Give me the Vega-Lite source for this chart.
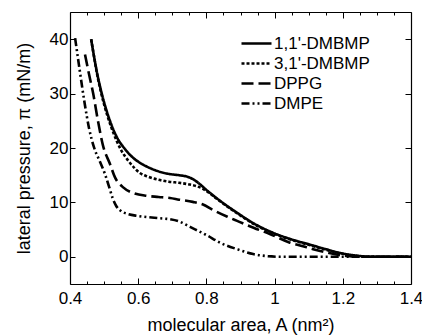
{
  "$schema": "https://vega.github.io/schema/vega-lite/v6.json",
  "width": 341,
  "height": 272,
  "autosize": {"type": "none"},
  "padding": {"left": 70, "top": 12, "right": 11, "bottom": 52},
  "background": "white",
  "config": {
    "view": {"stroke": null},
    "font": "Liberation Sans",
    "axis": {
      "domainColor": "black", "domainWidth": 1.2, "tickColor": "black", "tickWidth": 1,
      "labelColor": "black", "titleColor": "black", "labelFont": "Liberation Sans",
      "titleFont": "Liberation Sans", "labelFontSize": 17, "titleFontSize": 18,
      "titleFontWeight": "normal", "grid": false, "labelOverlap": false, "labelFlush": false
    },
    "legend": {"labelFont": "Liberation Sans"}
  },
  "datasets": {
    "curves": [
      {"s": "1,1'-DMBMP", "a": 0.462, "p": 40},
      {"s": "1,1'-DMBMP", "a": 0.47, "p": 37},
      {"s": "1,1'-DMBMP", "a": 0.48, "p": 33.6},
      {"s": "1,1'-DMBMP", "a": 0.49, "p": 30.8},
      {"s": "1,1'-DMBMP", "a": 0.50, "p": 28.4},
      {"s": "1,1'-DMBMP", "a": 0.52, "p": 24.5},
      {"s": "1,1'-DMBMP", "a": 0.54, "p": 21.7},
      {"s": "1,1'-DMBMP", "a": 0.56, "p": 19.9},
      {"s": "1,1'-DMBMP", "a": 0.585, "p": 18.2},
      {"s": "1,1'-DMBMP", "a": 0.61, "p": 17.1},
      {"s": "1,1'-DMBMP", "a": 0.635, "p": 16.3},
      {"s": "1,1'-DMBMP", "a": 0.665, "p": 15.6},
      {"s": "1,1'-DMBMP", "a": 0.693, "p": 15.2},
      {"s": "1,1'-DMBMP", "a": 0.72, "p": 15.0},
      {"s": "1,1'-DMBMP", "a": 0.745, "p": 14.7},
      {"s": "1,1'-DMBMP", "a": 0.765, "p": 14.1},
      {"s": "1,1'-DMBMP", "a": 0.78, "p": 13.4},
      {"s": "1,1'-DMBMP", "a": 0.80, "p": 12.3},
      {"s": "1,1'-DMBMP", "a": 0.84, "p": 10.3},
      {"s": "1,1'-DMBMP", "a": 0.89, "p": 8.1},
      {"s": "1,1'-DMBMP", "a": 0.94, "p": 6.1},
      {"s": "1,1'-DMBMP", "a": 1.0, "p": 4.3},
      {"s": "1,1'-DMBMP", "a": 1.05, "p": 3.2},
      {"s": "1,1'-DMBMP", "a": 1.1, "p": 2.3},
      {"s": "1,1'-DMBMP", "a": 1.15, "p": 1.4},
      {"s": "1,1'-DMBMP", "a": 1.2, "p": 0.6},
      {"s": "1,1'-DMBMP", "a": 1.25, "p": 0.15},
      {"s": "1,1'-DMBMP", "a": 1.28, "p": 0},
      {"s": "1,1'-DMBMP", "a": 1.4, "p": 0},
      {"s": "3,1'-DMBMP", "a": 0.462, "p": 40},
      {"s": "3,1'-DMBMP", "a": 0.47, "p": 37},
      {"s": "3,1'-DMBMP", "a": 0.48, "p": 33.4},
      {"s": "3,1'-DMBMP", "a": 0.49, "p": 30.5},
      {"s": "3,1'-DMBMP", "a": 0.50, "p": 28},
      {"s": "3,1'-DMBMP", "a": 0.52, "p": 24},
      {"s": "3,1'-DMBMP", "a": 0.537, "p": 21.3},
      {"s": "3,1'-DMBMP", "a": 0.55, "p": 19.6},
      {"s": "3,1'-DMBMP", "a": 0.567, "p": 18},
      {"s": "3,1'-DMBMP", "a": 0.585, "p": 16.6},
      {"s": "3,1'-DMBMP", "a": 0.605, "p": 15.4},
      {"s": "3,1'-DMBMP", "a": 0.63, "p": 14.7},
      {"s": "3,1'-DMBMP", "a": 0.664, "p": 14.1},
      {"s": "3,1'-DMBMP", "a": 0.69, "p": 13.8},
      {"s": "3,1'-DMBMP", "a": 0.72, "p": 13.6},
      {"s": "3,1'-DMBMP", "a": 0.75, "p": 13.3},
      {"s": "3,1'-DMBMP", "a": 0.77, "p": 13.0},
      {"s": "3,1'-DMBMP", "a": 0.79, "p": 12.5},
      {"s": "3,1'-DMBMP", "a": 0.80, "p": 12.1},
      {"s": "3,1'-DMBMP", "a": 0.84, "p": 10.2},
      {"s": "3,1'-DMBMP", "a": 0.89, "p": 8.0},
      {"s": "3,1'-DMBMP", "a": 0.94, "p": 6.0},
      {"s": "3,1'-DMBMP", "a": 1.0, "p": 4.2},
      {"s": "3,1'-DMBMP", "a": 1.05, "p": 3.1},
      {"s": "3,1'-DMBMP", "a": 1.1, "p": 2.2},
      {"s": "3,1'-DMBMP", "a": 1.15, "p": 1.3},
      {"s": "3,1'-DMBMP", "a": 1.2, "p": 0.55},
      {"s": "3,1'-DMBMP", "a": 1.25, "p": 0.1},
      {"s": "3,1'-DMBMP", "a": 1.28, "p": 0},
      {"s": "3,1'-DMBMP", "a": 1.4, "p": 0},
      {"s": "DPPG", "a": 0.444, "p": 37.2},
      {"s": "DPPG", "a": 0.456, "p": 33.5},
      {"s": "DPPG", "a": 0.468, "p": 30},
      {"s": "DPPG", "a": 0.482, "p": 25},
      {"s": "DPPG", "a": 0.497, "p": 20.4},
      {"s": "DPPG", "a": 0.517, "p": 17.1},
      {"s": "DPPG", "a": 0.532, "p": 14.6},
      {"s": "DPPG", "a": 0.555, "p": 12.8},
      {"s": "DPPG", "a": 0.582, "p": 11.8},
      {"s": "DPPG", "a": 0.626, "p": 11.2},
      {"s": "DPPG", "a": 0.66, "p": 11.0},
      {"s": "DPPG", "a": 0.693, "p": 10.8},
      {"s": "DPPG", "a": 0.72, "p": 10.5},
      {"s": "DPPG", "a": 0.76, "p": 10.1},
      {"s": "DPPG", "a": 0.79, "p": 9.6},
      {"s": "DPPG", "a": 0.82, "p": 8.6},
      {"s": "DPPG", "a": 0.86, "p": 7.4},
      {"s": "DPPG", "a": 0.89, "p": 6.6},
      {"s": "DPPG", "a": 0.94, "p": 5.3},
      {"s": "DPPG", "a": 0.986, "p": 4.2},
      {"s": "DPPG", "a": 1.045, "p": 2.6},
      {"s": "DPPG", "a": 1.08, "p": 2.0},
      {"s": "DPPG", "a": 1.113, "p": 1.4},
      {"s": "DPPG", "a": 1.16, "p": 0.7},
      {"s": "DPPG", "a": 1.21, "p": 0.15},
      {"s": "DPPG", "a": 1.24, "p": 0},
      {"s": "DPPG", "a": 1.4, "p": 0},
      {"s": "DMPE", "a": 0.415, "p": 40.2},
      {"s": "DMPE", "a": 0.428, "p": 34.5},
      {"s": "DMPE", "a": 0.442, "p": 28.6},
      {"s": "DMPE", "a": 0.456, "p": 23.6},
      {"s": "DMPE", "a": 0.47, "p": 20.2},
      {"s": "DMPE", "a": 0.487, "p": 17.6},
      {"s": "DMPE", "a": 0.502, "p": 15.3},
      {"s": "DMPE", "a": 0.514, "p": 13.0},
      {"s": "DMPE", "a": 0.525, "p": 10.8},
      {"s": "DMPE", "a": 0.536, "p": 9.3},
      {"s": "DMPE", "a": 0.55, "p": 8.4},
      {"s": "DMPE", "a": 0.567, "p": 7.9},
      {"s": "DMPE", "a": 0.6, "p": 7.5},
      {"s": "DMPE", "a": 0.626, "p": 7.3},
      {"s": "DMPE", "a": 0.66, "p": 7.1},
      {"s": "DMPE", "a": 0.693, "p": 6.9},
      {"s": "DMPE", "a": 0.72, "p": 6.5},
      {"s": "DMPE", "a": 0.752, "p": 5.5},
      {"s": "DMPE", "a": 0.8, "p": 4.0},
      {"s": "DMPE", "a": 0.84, "p": 2.6},
      {"s": "DMPE", "a": 0.89, "p": 1.4},
      {"s": "DMPE", "a": 0.937, "p": 0.5},
      {"s": "DMPE", "a": 0.98, "p": 0.12},
      {"s": "DMPE", "a": 1.02, "p": 0},
      {"s": "DMPE", "a": 1.4, "p": 0}
    ]
  },
  "data": {"name": "curves"},
  "resolve": {"axis": {"x": "independent", "y": "independent"}},
  "layer": [
    {
      "mark": {"type": "line", "color": "black", "strokeCap": "butt", "interpolate": "monotone"},
      "encoding": {
        "x": {
          "field": "a", "type": "quantitative",
          "scale": {"domain": [0.4, 1.4], "nice": false, "zero": false},
          "axis": {
            "orient": "bottom",
            "title": "molecular area, A (nm²)",
            "values": [0.4, 0.45, 0.5, 0.55, 0.6, 0.65, 0.7, 0.75, 0.8, 0.85, 0.9, 0.95, 1, 1.05, 1.1, 1.15, 1.2, 1.25, 1.3, 1.35, 1.4],
            "labelExpr": "abs(datum.value/0.2 - round(datum.value/0.2)) < 0.01 ? format(datum.value, '.1~f') : ''",
            "tickSize": {"condition": {"test": "abs(datum.value/0.2 - round(datum.value/0.2)) < 0.01", "value": -6}, "value": -3},
            "labelPadding": 12,
            "titlePadding": 7
          }
        },
        "y": {
          "field": "p", "type": "quantitative",
          "scale": {"domain": [-5, 45], "nice": false, "zero": false},
          "axis": {
            "orient": "left",
            "title": "lateral pressure, π (mN/m)",
            "values": [0, 10, 20, 30, 40],
            "tickSize": -5,
            "labelPadding": 7,
            "titlePadding": 16
          }
        },
        "strokeDash": {
          "field": "s", "type": "nominal",
          "scale": {
            "domain": ["1,1'-DMBMP", "3,1'-DMBMP", "DPPG", "DMPE"],
            "range": [[1, 0], [3, 2], [12, 5], [8, 3, 2, 3, 2, 3]]
          },
          "legend": {
            "title": null, "orient": "none", "legendX": 175, "legendY": 20,
            "symbolType": "M-1.5,0H1.5", "symbolSize": 400, "symbolStrokeWidth": 2,
            "symbolStrokeColor": "black", "labelFontSize": 17, "labelColor": "black",
            "labelOffset": 6, "rowPadding": 0, "padding": 0
          }
        },
        "strokeWidth": {
          "field": "s", "type": "nominal",
          "scale": {
            "domain": ["1,1'-DMBMP", "3,1'-DMBMP", "DPPG", "DMPE"],
            "range": [2.6, 2.6, 2, 2]
          },
          "legend": null
        }
      }
    },
    {
      "mark": {"type": "line", "opacity": 0},
      "encoding": {
        "x": {
          "field": "a", "type": "quantitative",
          "axis": {
            "orient": "top", "title": null, "labels": false,
            "values": [0.4, 0.45, 0.5, 0.55, 0.6, 0.65, 0.7, 0.75, 0.8, 0.85, 0.9, 0.95, 1, 1.05, 1.1, 1.15, 1.2, 1.25, 1.3, 1.35, 1.4],
            "tickSize": {"condition": {"test": "abs(datum.value/0.2 - round(datum.value/0.2)) < 0.01", "value": -6}, "value": -3}
          }
        },
        "y": {
          "field": "p", "type": "quantitative",
          "axis": {
            "orient": "right", "title": null, "labels": false,
            "values": [0, 10, 20, 30, 40], "tickSize": -6
          }
        },
        "detail": {"field": "s", "type": "nominal"}
      }
    }
  ]
}
